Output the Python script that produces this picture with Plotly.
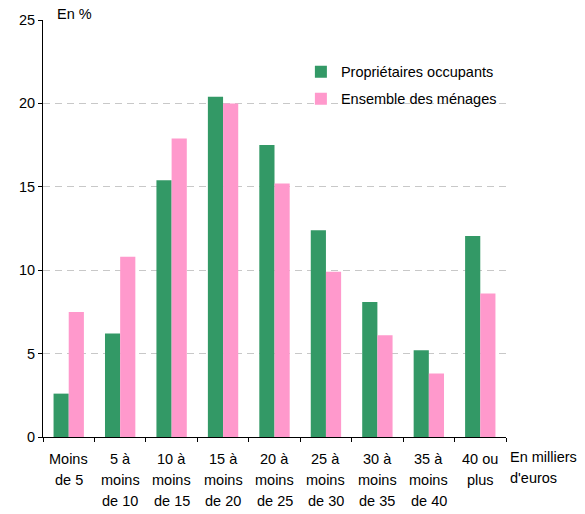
import plotly.graph_objects as go

categories = ["Moins<br>de 5", "5 à<br>moins<br>de 10", "10 à<br>moins<br>de 15", "15 à<br>moins<br>de 20",
              "20 à<br>moins<br>de 25", "25 à<br>moins<br>de 30", "30 à<br>moins<br>de 35", "35 à<br>moins<br>de 40",
              "40 ou<br>plus"]
proprietaires = [2.6, 6.2, 15.4, 20.4, 17.5, 12.4, 8.1, 5.2, 12.05]
ensemble = [7.5, 10.8, 17.9, 20.0, 15.2, 9.9, 6.1, 3.8, 8.6]
y_ticks = [0, 5, 10, 15, 20, 25]

FONT = "Liberation Sans, Arial, sans-serif"
fig = go.Figure()
fig.add_trace(go.Bar(x=categories, y=proprietaires, name="Propriétaires occupants",
                     marker=dict(color="#339966", line=dict(width=0)), legendgroup="a"))
fig.add_trace(go.Bar(x=categories, y=ensemble, name="Ensemble des ménages",
                     marker=dict(color="#FF99CC", line=dict(width=0)), legendgroup="b"))

annotations = []
for cat in categories:
    for j, line in enumerate(cat.split("<br>")):
        annotations.append(dict(x=cat, xref="x", y=0, yref="y", text=line, showarrow=False,
                                xanchor="center", yanchor="middle", yshift=-22 - 21 * j,
                                font=dict(size=14.5, color="black", family=FONT)))
annotations.append(dict(x=0.026, xref="paper", y=1, yref="paper", text="En %", showarrow=False,
                        xanchor="left", yanchor="middle", yshift=6,
                        font=dict(size=14.5, color="black", family=FONT)))
for j, line in enumerate(["En milliers", "d'euros"]):
    annotations.append(dict(x=1, xref="paper", y=0, yref="y", text=line, showarrow=False,
                            xanchor="left", yanchor="middle", xshift=2, yshift=-20 - 21 * j,
                            font=dict(size=14.5, color="black", family=FONT)))

fig.update_layout(
    width=585, height=514,
    margin=dict(l=43, r=79, t=20, b=77),
    paper_bgcolor="white", plot_bgcolor="white",
    font=dict(family=FONT, size=14, color="black"),
    barmode="group", bargap=0.41, bargroupgap=0,
    showlegend=True,
    legend=dict(x=0.557, y=0.914, xanchor="left", yanchor="top", traceorder="grouped",
                tracegroupgap=5, bgcolor="rgba(0,0,0,0)", font=dict(size=14.5, family=FONT)),
    annotations=annotations,
)
fig.update_xaxes(type="category", range=[-0.5, 8.5], tickson="boundaries", ticks="outside",
                 ticklen=4, tickcolor="black", showticklabels=False, showline=True,
                 linecolor="black", linewidth=1, showgrid=False, zeroline=False)
fig.update_yaxes(range=[0, 25], tickvals=y_ticks, ticks="outside", ticklen=4, tickcolor="black",
                 showline=True, linecolor="black", linewidth=1, showgrid=True,
                 gridcolor="#c8c8c8", griddash="7px,5px", gridwidth=1, zeroline=False,
                 tickfont=dict(size=14.5, family=FONT, color="black"))

fig.write_html("out.html", config={"displayModeBar": False},
               post_script="document.body.style.margin='0';")
